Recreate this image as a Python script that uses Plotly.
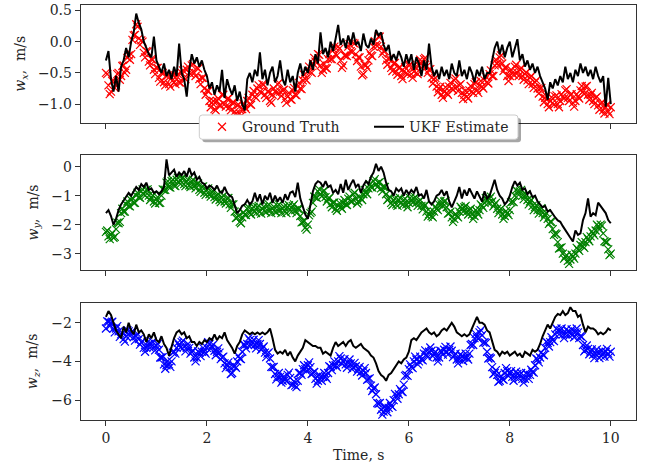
import plotly.graph_objects as go

# time axis (s): 0.05 s grid and the in-between samples of the ground truth
time_s = [round(0.05 * i, 2) for i in range(201)]
time_mid = [round(0.025 + 0.05 * i, 3) for i in range(200)]

wx_truth = [
    -0.50, -0.70, -0.80, -0.62, -0.70, -0.50, -0.55, -0.38, -0.45, -0.22, -0.20, 0.10, 0.28, 0.05, 0.02, -0.18, -0.15, -0.32, -0.28, -0.45,
    -0.42, -0.58, -0.50, -0.65, -0.55, -0.68, -0.58, -0.65, -0.55, -0.65, -0.50, -0.58, -0.45, -0.50, -0.38, -0.50, -0.42, -0.60, -0.58, -0.75,
    -0.78, -0.95, -0.98, -1.08, -0.95, -1.02, -0.85, -1.00, -0.92, -1.05, -0.98, -1.12, -1.02, -1.15, -1.08, -1.05, -0.95, -1.00, -0.85, -0.88,
    -0.75, -0.80, -0.68, -0.85, -0.80, -0.95, -0.85, -0.80, -0.68, -0.80, -0.78, -0.92, -0.88, -0.92, -0.78, -0.85, -0.72, -0.75, -0.62, -0.60,
    -0.48, -0.48, -0.35, -0.32, -0.20, -0.38, -0.45, -0.42, -0.28, -0.28, -0.12, -0.20, -0.08, -0.30, -0.38, -0.22, -0.08, -0.15, -0.02, -0.20,
    -0.25, -0.40, -0.52, -0.38, -0.30, -0.22, -0.08, -0.05, 0.08, -0.08, -0.15, -0.30, -0.28, -0.42, -0.35, -0.48, -0.42, -0.55, -0.48, -0.50,
    -0.38, -0.52, -0.48, -0.50, -0.38, -0.35, -0.28, -0.40, -0.45, -0.58, -0.60, -0.72, -0.75, -0.85, -0.80, -0.82, -0.72, -0.75, -0.62, -0.72,
    -0.70, -0.82, -0.85, -0.88, -0.78, -0.80, -0.68, -0.78, -0.70, -0.72, -0.62, -0.65, -0.52, -0.55, -0.38, -0.35, -0.25, -0.35, -0.42, -0.55,
    -0.55, -0.50, -0.40, -0.50, -0.45, -0.55, -0.52, -0.62, -0.58, -0.68, -0.65, -0.75, -0.75, -0.88, -0.90, -1.00, -0.95, -0.98, -0.88, -1.00,
    -0.95, -0.88, -0.78, -0.90, -0.85, -0.98, -0.95, -0.88, -0.78, -0.80, -0.72, -0.85, -0.85, -0.95, -0.90, -1.02, -1.00, -1.10, -1.05, -1.12,
    -1.05,
]
wx_truth_mid = [
    -0.52, -0.84, -0.63, -0.74, -0.52, -0.61, -0.39, -0.50, -0.26, -0.29, 0.03, 0.11, 0.24, -0.05, 0.00, -0.25, -0.16, -0.38, -0.29, -0.52,
    -0.42, -0.64, -0.50, -0.70, -0.54, -0.72, -0.53, -0.68, -0.52, -0.66, -0.46, -0.60, -0.40, -0.52, -0.36, -0.55, -0.43, -0.68, -0.58, -0.85,
    -0.79, -1.05, -0.95, -1.10, -0.91, -1.02, -0.85, -1.04, -0.91, -1.10, -0.97, -1.15, -1.01, -1.19, -0.99, -1.08, -0.90, -1.01, -0.79, -0.90,
    -0.70, -0.82, -0.69, -0.90, -0.80, -0.98, -0.75, -0.82, -0.66, -0.87, -0.77, -0.98, -0.82, -0.93, -0.74, -0.86, -0.66, -0.76, -0.53, -0.62,
    -0.40, -0.50, -0.26, -0.34, -0.21, -0.50, -0.36, -0.43, -0.20, -0.28, -0.08, -0.22, -0.11, -0.42, -0.22, -0.23, -0.04, -0.17, -0.03, -0.31,
    -0.25, -0.54, -0.37, -0.42, -0.18, -0.23, 0.01, -0.07, 0.08, -0.19, -0.15, -0.37, -0.27, -0.47, -0.34, -0.53, -0.41, -0.60, -0.41, -0.52,
    -0.37, -0.58, -0.41, -0.52, -0.29, -0.39, -0.26, -0.50, -0.44, -0.67, -0.58, -0.81, -0.72, -0.90, -0.73, -0.85, -0.66, -0.77, -0.59, -0.79,
    -0.68, -0.92, -0.79, -0.91, -0.71, -0.82, -0.65, -0.82, -0.63, -0.75, -0.56, -0.67, -0.46, -0.55, -0.29, -0.38, -0.22, -0.47, -0.41, -0.63,
    -0.45, -0.53, -0.37, -0.55, -0.42, -0.61, -0.49, -0.68, -0.55, -0.74, -0.62, -0.83, -0.74, -0.97, -0.87, -1.05, -0.89, -1.01, -0.86, -1.05,
    -0.84, -0.91, -0.76, -0.95, -0.84, -1.04, -0.84, -0.91, -0.71, -0.84, -0.71, -0.93, -0.82, -1.00, -0.88, -1.09, -0.97, -1.15, -1.01, -1.16,
]

wx_ukf = [
    -0.30, -0.15, -0.60, -0.80, -0.55, -0.80, -0.40, -0.30, -0.10, -0.25, 0.00, 0.15, 0.45, 0.30, 0.20, 0.00, -0.10, -0.20, -0.25, 0.08,
    -0.30, -0.40, -0.50, -0.35, -0.55, -0.45, -0.60, -0.40, -0.55, -0.03, -0.50, -0.60, -0.88, -0.45, -0.20, -0.35, -0.25, -0.40, -0.30, -0.45,
    -0.55, -0.75, -0.65, -0.85, -0.70, -0.80, -0.45, -0.90, -0.60, -0.75, -0.85, -0.70, -0.95, -0.80, -1.00, -1.10, -0.60, -0.50, -0.65, -0.45,
    -0.55, -0.17, -0.60, -0.45, -0.70, -0.50, -0.40, -0.65, -0.55, -0.30, -0.60, -0.70, -0.45, -0.65, -0.55, -0.80, -0.50, -0.35, -0.55, -0.40,
    -0.50, -0.30, -0.45, -0.20, -0.35, 0.15, -0.20, -0.10, -0.25, 0.00, -0.15, 0.05, 0.27, -0.05, 0.05, -0.10, 0.10, -0.05, 0.15, -0.05,
    0.00, -0.15, 0.13, -0.05, -0.10, 0.05, -0.05, 0.19, 0.10, 0.15, -0.05, -0.15, -0.05, -0.30, -0.20, -0.30, -0.15, -0.25, -0.40, -0.20,
    -0.35, -0.20, -0.45, -0.25, -0.35, -0.55, -0.30, -0.45, -0.03, -0.40, -0.55, -0.45, -0.60, -0.40, -0.55, -0.45, -0.60, -0.35, -0.50, -0.55,
    -0.30, -0.55, -0.45, -0.60, -0.40, -0.50, -0.65, -0.45, -0.55, -0.40, -0.60, -0.50, -0.50, -0.30, -0.10, 0.00, -0.20, -0.05, -0.25, -0.10,
    0.00, -0.25, -0.10, 0.04, -0.30, -0.20, -0.40, -0.30, -0.45, -0.35, -0.50, -0.40, -0.55, -0.65, -0.75, -0.93, -0.65, -0.75, -0.60, -0.70,
    -0.55, -0.65, -0.40, -0.60, -0.50, -0.65, -0.45, -0.55, -0.35, -0.50, -0.40, -0.55, -0.45, -0.60, -0.40, -0.55, -0.65, -0.55, -1.04, -0.58,
    -1.00,
]

wy_truth = [
    -2.25, -2.40, -2.35, -2.45, -2.15, -1.95, -1.60, -1.55, -1.30, -1.35, -1.15, -1.25, -1.00, -1.05, -0.85, -0.95, -0.80, -1.00, -1.05, -1.20,
    -1.10, -1.25, -1.00, -0.80, -0.55, -0.70, -0.50, -0.65, -0.45, -0.55, -0.40, -0.60, -0.50, -0.65, -0.50, -0.65, -0.60, -0.80, -0.70, -0.90,
    -0.80, -0.95, -0.88, -1.05, -0.98, -1.15, -1.05, -1.20, -1.10, -1.30, -1.30, -1.55, -1.75, -1.90, -1.75, -1.65, -1.45, -1.60, -1.45, -1.55,
    -1.40, -1.55, -1.45, -1.55, -1.35, -1.50, -1.45, -1.55, -1.35, -1.50, -1.45, -1.55, -1.40, -1.50, -1.35, -1.50, -1.45, -1.70, -1.90, -2.10,
    -2.00, -1.60, -1.25, -1.05, -0.85, -0.95, -0.85, -1.05, -1.10, -1.30, -1.25, -1.45, -1.35, -1.40, -1.25, -1.30, -1.10, -1.20, -0.95, -1.10,
    -1.20, -1.10, -0.95, -0.90, -0.75, -0.70, -0.50, -0.60, -0.55, -0.75, -0.70, -0.95, -1.10, -1.25, -1.15, -1.30, -1.15, -1.25, -1.15, -1.30,
    -1.25, -1.15, -1.10, -1.25, -1.20, -1.35, -1.35, -1.55, -1.65, -1.70, -1.55, -1.45, -1.30, -1.30, -1.20, -1.40, -1.60, -1.75, -1.80, -1.70,
    -1.55, -1.45, -1.40, -1.55, -1.50, -1.65, -1.70, -1.55, -1.50, -1.35, -1.25, -1.15, -1.10, -1.20, -1.30, -1.45, -1.50, -1.65, -1.70, -1.60,
    -1.50, -1.20, -1.00, -0.85, -0.85, -1.00, -1.00, -1.15, -1.20, -1.35, -1.40, -1.50, -1.50, -1.60, -1.65, -1.80, -1.90, -2.15, -2.30, -2.60,
    -2.80, -3.00, -3.10, -3.25, -3.20, -3.10, -3.00, -2.85, -2.70, -2.75, -2.60, -2.50, -2.40, -2.30, -2.20, -2.05, -2.00, -2.30, -2.60, -2.85,
    -3.00,
]
wy_truth_mid = [
    -2.20, -2.50, -2.28, -2.42, -1.93, -1.90, -1.45, -1.55, -1.20, -1.37, -1.08, -1.25, -0.90, -1.07, -0.78, -1.00, -0.78, -1.15, -1.00, -1.27,
    -1.05, -1.25, -0.78, -0.80, -0.50, -0.72, -0.45, -0.67, -0.38, -0.60, -0.38, -0.67, -0.45, -0.70, -0.45, -0.75, -0.58, -0.87, -0.68, -0.97,
    -0.75, -1.03, -0.85, -1.13, -0.95, -1.22, -1.00, -1.27, -1.08, -1.42, -1.30, -1.77, -1.70, -1.95, -1.58, -1.67, -1.40, -1.65, -1.38, -1.60,
    -1.35, -1.62, -1.38, -1.57, -1.30, -1.60, -1.38, -1.57, -1.30, -1.60, -1.38, -1.60, -1.33, -1.55, -1.30, -1.60, -1.45, -1.92, -1.88, -2.17,
    -1.68, -1.55, -1.03, -1.07, -0.78, -1.02, -0.83, -1.20, -1.08, -1.40, -1.23, -1.52, -1.25, -1.45, -1.15, -1.32, -1.03, -1.20, -0.90, -1.27,
    -1.03, -1.15, -0.80, -0.95, -0.60, -0.72, -0.43, -0.70, -0.53, -0.85, -0.70, -1.15, -1.05, -1.32, -1.10, -1.35, -1.08, -1.32, -1.10, -1.40,
    -1.08, -1.25, -1.05, -1.35, -1.15, -1.47, -1.33, -1.72, -1.55, -1.75, -1.38, -1.50, -1.18, -1.37, -1.18, -1.62, -1.55, -1.90, -1.63, -1.75,
    -1.38, -1.55, -1.35, -1.65, -1.45, -1.80, -1.50, -1.65, -1.30, -1.42, -1.08, -1.25, -1.03, -1.37, -1.25, -1.60, -1.45, -1.80, -1.53, -1.67,
    -1.23, -1.22, -0.80, -0.97, -0.80, -1.12, -0.95, -1.30, -1.15, -1.50, -1.33, -1.62, -1.43, -1.75, -1.60, -1.97, -1.90, -2.35, -2.33, -2.82,
    -2.78, -3.17, -3.05, -3.35, -3.03, -3.17, -2.80, -2.90, -2.60, -2.80, -2.43, -2.57, -2.23, -2.37, -2.00, -2.15, -2.03, -2.57, -2.60, -3.05,
]

wy_ukf = [
    -1.60, -1.50, -1.70, -2.00, -1.80, -1.50, -1.30, -1.15, -1.00, -0.90, -1.00, -0.85, -0.70, -0.80, -0.60, -0.70, -0.55, -0.80, -0.75, -0.90,
    -0.85, -0.95, -0.85, -0.70, 0.25, -0.30, -0.20, -0.10, -0.35, -0.20, -0.30, -0.15, -0.35, -0.05, -0.30, -0.20, -0.45, -0.35, -0.55, -0.60,
    -0.75, -0.65, -0.70, -0.80, -0.65, -0.85, -0.90, -0.70, -0.90, -1.00, -1.05, -1.30, -1.60, -1.50, -1.35, -1.30, -1.15, -1.30, -1.20, -0.90,
    -1.20, -0.95, -1.30, -1.00, -1.15, -0.90, -1.25, -1.00, -1.20, -1.05, -1.25, -0.95, -1.15, -0.90, -0.85, -1.05, -0.55, -1.10, -1.35, -1.65,
    -1.80, -1.30, -0.85, -0.60, -0.50, -0.55, -0.70, -0.50, -0.70, -0.65, -0.90, -0.80, -0.95, -0.60, -0.90, -0.45, -0.80, -0.60, -0.45, -0.70,
    -0.60, -0.90, -0.65, -0.50, -0.60, -0.35, -0.20, 0.10, -0.15, 0.00, -0.20, -0.55, -0.80, -0.85, -1.00, -0.75, -0.85, -0.75, -1.00, -0.80,
    -0.95, -0.80, -0.90, -0.70, -1.00, -0.95, -1.10, -0.80, -1.20, -1.30, -1.20, -1.00, -0.95, -0.80, -1.00, -0.85, -1.20, -1.40, -1.20, -1.00,
    -0.70, -1.10, -0.80, -1.00, -0.75, -0.90, -1.10, -0.85, -1.05, -1.20, -0.85, -1.10, -1.00, -0.75, -0.45, -0.80, -1.00, -1.10, -1.30, -1.20,
    -1.00, -0.70, -0.50, -0.65, -0.55, -0.80, -0.75, -0.95, -0.85, -1.05, -1.00, -1.20, -1.30, -1.40, -1.35, -1.55, -1.50, -1.65, -1.75, -1.85,
    -1.90, -2.05, -2.20, -2.35, -2.45, -2.58, -2.20, -2.35, -2.30, -1.84, -1.60, -1.09, -1.72, -1.60, -1.67, -1.24, -1.35, -1.49, -1.60, -1.84,
    -1.95,
]

wz_truth = [
    -2.30, -1.95, -2.00, -2.30, -2.30, -2.45, -2.60, -2.85, -2.70, -2.45, -2.50, -2.75, -2.70, -2.85, -3.00, -3.30, -3.30, -3.10, -3.10, -3.25,
    -3.20, -3.40, -3.80, -4.15, -4.20, -4.15, -4.00, -3.50, -3.30, -3.15, -3.00, -3.25, -3.30, -3.30, -3.50, -3.80, -3.80, -3.55, -3.50, -3.50,
    -3.30, -3.10, -3.20, -3.45, -3.50, -3.55, -3.80, -4.10, -4.20, -4.30, -4.60, -4.25, -4.00, -3.85, -3.50, -3.15, -3.10, -2.90, -3.00, -3.15,
    -3.10, -3.10, -3.30, -3.55, -3.60, -3.85, -4.30, -4.65, -4.80, -4.80, -5.00, -4.95, -4.70, -4.85, -5.20, -5.25, -5.00, -4.60, -4.40, -4.40,
    -4.20, -4.30, -4.60, -4.90, -5.00, -4.80, -4.80, -4.80, -4.60, -4.30, -4.20, -4.20, -4.00, -3.85, -4.00, -4.15, -4.10, -4.10, -4.30, -4.25,
    -4.40, -4.55, -4.50, -4.60, -4.90, -5.25, -5.40, -5.70, -6.20, -6.50, -6.60, -6.45, -6.40, -6.30, -6.00, -5.75, -5.70, -5.55, -5.20, -4.70,
    -4.40, -4.30, -4.00, -3.90, -4.00, -3.90, -3.60, -3.65, -3.50, -3.45, -3.60, -3.80, -3.80, -3.50, -3.40, -3.50, -3.40, -3.45, -3.70, -3.90,
    -3.90, -3.75, -3.80, -3.80, -3.60, -3.10, -2.80, -2.75, -2.50, -2.65, -3.00, -3.50, -3.80, -4.30, -4.60, -4.70, -5.00, -4.90, -4.60, -4.50,
    -4.60, -4.80, -4.80, -4.65, -4.70, -4.90, -4.90, -4.70, -4.70, -4.55, -4.20, -3.90, -3.80, -3.65, -3.30, -3.05, -3.00, -2.90, -2.60, -2.40,
    -2.40, -2.60, -2.60, -2.45, -2.50, -2.60, -2.50, -2.50, -2.70, -3.15, -3.40, -3.35, -3.50, -3.65, -3.60, -3.55, -3.70, -3.60, -3.50, -3.60,
    -3.50,
]
wz_truth_mid = [
    -1.93, -2.18, -1.95, -2.50, -2.18, -2.73, -2.53, -2.98, -2.38, -2.68, -2.43, -2.93, -2.58, -3.13, -2.95, -3.50, -3.00, -3.30, -2.98, -3.43,
    -3.10, -3.80, -3.78, -4.38, -3.98, -4.28, -3.55, -3.60, -3.03, -3.28, -2.93, -3.48, -3.10, -3.60, -3.45, -4.00, -3.48, -3.73, -3.30, -3.60,
    -3.00, -3.35, -3.13, -3.68, -3.33, -3.88, -3.75, -4.35, -4.05, -4.65, -4.23, -4.33, -3.73, -3.88, -3.13, -3.33, -2.80, -3.15, -2.88, -3.33,
    -2.90, -3.40, -3.23, -3.78, -3.53, -4.28, -4.28, -4.93, -4.60, -5.10, -4.78, -5.03, -4.58, -5.23, -5.03, -5.33, -4.60, -4.70, -4.20, -4.50,
    -4.05, -4.65, -4.55, -5.15, -4.70, -5.00, -4.60, -4.90, -4.25, -4.45, -4.00, -4.30, -3.73, -4.13, -3.88, -4.33, -3.90, -4.40, -4.08, -4.53,
    -4.28, -4.73, -4.35, -4.95, -4.88, -5.53, -5.35, -6.15, -6.15, -6.75, -6.33, -6.63, -6.15, -6.35, -5.68, -5.93, -5.43, -5.58, -4.75, -4.75,
    -4.15, -4.35, -3.75, -4.15, -3.75, -3.95, -3.43, -3.78, -3.28, -3.73, -3.50, -4.00, -3.45, -3.65, -3.25, -3.65, -3.23, -3.78, -3.60, -4.10,
    -3.63, -3.98, -3.60, -3.90, -3.15, -3.15, -2.58, -2.83, -2.38, -3.03, -3.05, -3.85, -3.85, -4.65, -4.45, -5.05, -4.75, -4.95, -4.35, -4.75,
    -4.50, -5.00, -4.53, -4.88, -4.60, -5.10, -4.60, -4.90, -4.43, -4.58, -3.85, -4.05, -3.53, -3.68, -2.98, -3.23, -2.75, -2.95, -2.30, -2.60,
    -2.30, -2.80, -2.33, -2.68, -2.35, -2.75, -2.30, -2.80, -2.73, -3.48, -3.18, -3.63, -3.38, -3.83, -3.38, -3.83, -3.45, -3.75, -3.35, -3.75,
]

wz_ukf = [
    -1.70, -1.40, -1.60, -2.00, -2.40, -2.60, -2.80, -2.20, -2.50, -2.00, -2.40, -2.60, -2.10, -2.50, -2.40, -2.60, -3.00, -2.60, -2.80, -2.50,
    -2.90, -3.00, -2.70, -3.10, -3.30, -3.70, -3.20, -2.80, -2.50, -2.40, -2.60, -2.50, -2.80, -2.70, -3.00, -3.00, -3.20, -3.00, -3.10, -2.90,
    -3.00, -2.80, -2.90, -2.60, -2.90, -2.70, -2.80, -2.50, -2.90, -3.10, -3.30, -3.60, -3.20, -3.00, -2.60, -2.40, -2.50, -2.60, -2.50, -2.60,
    -2.50, -2.60, -2.50, -2.60, -2.50, -2.30, -2.80, -3.40, -3.60, -3.50, -3.60, -3.40, -3.70, -3.50, -3.80, -4.00, -3.70, -3.50, -3.30, -2.90,
    -3.00, -3.10, -3.20, -3.20, -3.30, -3.30, -3.60, -3.50, -3.60, -3.70, -3.30, -3.00, -3.20, -3.10, -3.00, -3.20, -3.00, -2.90, -3.20, -3.30,
    -3.20, -3.10, -3.30, -3.40, -3.50, -3.70, -3.80, -4.10, -4.50, -4.70, -4.80, -5.00, -4.70, -4.60, -4.40, -4.20, -4.00, -4.10, -3.90, -3.80,
    -3.50, -2.90, -2.80, -2.90, -2.70, -2.50, -2.40, -2.30, -2.50, -2.60, -2.50, -2.70, -2.60, -2.40, -2.30, -2.40, -2.20, -2.00, -2.20, -2.50,
    -2.60, -2.70, -2.60, -2.70, -2.60, -2.30, -2.00, -1.70, -2.00, -2.00, -2.10, -2.40, -2.50, -3.00, -3.40, -3.50, -3.70, -3.50, -3.60, -3.50,
    -3.70, -3.60, -3.50, -3.70, -3.60, -3.80, -3.50, -3.60, -3.70, -3.40, -3.50, -3.40, -3.10, -2.70, -2.40, -2.10, -2.30, -2.00, -1.70, -1.55,
    -1.60, -1.40, -1.60, -1.50, -1.20, -1.40, -1.40, -1.70, -1.60, -2.10, -2.50, -2.20, -2.30, -2.30, -2.40, -2.60, -2.50, -2.60, -2.50, -2.30,
    -2.40,
]

x_ticks = [0, 2, 4, 6, 8, 10]
y_ticks = [[0.5, 0.0, -0.5, -1.0], [0, -1, -2, -3], [-2, -4, -6]]
y_ranges = [[-1.298, 0.588], [-3.562, 0.403], [-7.03, -0.965]]
y_labels = ["<i>w</i><sub><i>x</i></sub>,  m/s", "<i>w</i><sub><i>y</i></sub>,  m/s", "<i>w</i><sub><i>z</i></sub>,  m/s"]
truth_colors = ["#ff0000", "#008000", "#0000ff"]

W, H = 649, 465
FONT = "DejaVu Serif"
TXT = "#262626"
x_dom = [80.7 / W, 636 / W]
y_px = [(5, 122.7), (155, 270), (302.7, 420)]
y_doms = [[1 - b / H, 1 - t / H] for t, b in y_px]
ylab_x = [21, 33, 33]

fig = go.Figure()
series = [(wx_truth, wx_truth_mid, wx_ukf), (wy_truth, wy_truth_mid, wy_ukf), (wz_truth, wz_truth_mid, wz_ukf)]
for i, (truth, truth_mid, ukf) in enumerate(series):
    sfx = "" if i == 0 else str(i + 1)
    fig.add_trace(go.Scatter(
        x=time_s + time_mid, y=truth + truth_mid, mode="markers", name="Ground Truth",
        marker=dict(symbol="x-thin", size=8, color=truth_colors[i],
                    line=dict(width=1.2, color=truth_colors[i])),
        showlegend=(i == 0), xaxis="x" + sfx, yaxis="y" + sfx))
    fig.add_trace(go.Scatter(
        x=time_s, y=ukf, mode="lines", name="UKF Estimate",
        line=dict(color="black", width=2),
        showlegend=(i == 0), xaxis="x" + sfx, yaxis="y" + sfx))

axis_common = dict(showline=True, mirror=True, linecolor="#333", linewidth=1,
                   ticks="outside", ticklen=5, tickwidth=1, tickcolor="#333",
                   showgrid=False, zeroline=False, automargin=False,
                   tickfont=dict(family=FONT, size=14, color=TXT))
layout = dict(
    template="none",
    width=W, height=H, margin=dict(l=0, r=0, t=0, b=0, pad=0, autoexpand=False),
    paper_bgcolor="white", plot_bgcolor="white",
    font=dict(family=FONT, size=14, color=TXT),
    showlegend=True,
)
for i in range(3):
    sfx = "" if i == 0 else str(i + 1)
    layout["xaxis" + sfx] = dict(axis_common, domain=x_dom, range=[-0.5, 10.5],
                                 tickvals=x_ticks, anchor="y" + sfx,
                                 showticklabels=(i == 2))
    layout["yaxis" + sfx] = dict(axis_common, domain=y_doms[i], range=y_ranges[i],
                                 tickvals=y_ticks[i], anchor="x" + sfx,
                                 tickformat=".1f" if i == 0 else "d")
fig.update_layout(**layout)

annotations = []
for i in range(3):
    t, b = y_px[i]
    annotations.append(dict(text=y_labels[i], xref="paper", yref="paper",
                            x=ylab_x[i] / W, y=1 - (t + b) / 2 / H,
                            xanchor="center", yanchor="middle", textangle=-90,
                            showarrow=False, font=dict(family=FONT, size=14, color=TXT)))
annotations.append(dict(text="Time, s", xref="paper", yref="paper",
                        x=(x_dom[0] + x_dom[1]) / 2, y=1 - 455 / H,
                        xanchor="center", yanchor="middle", showarrow=False,
                        font=dict(family=FONT, size=14, color=TXT)))
fig.update_layout(annotations=annotations)


def rounded_rect(l, t, r, b, rad):
    X = lambda px: px / W
    Y = lambda py: 1 - py / H
    return (f"M {X(l + rad)},{Y(t)} L {X(r - rad)},{Y(t)} Q {X(r)},{Y(t)} {X(r)},{Y(t + rad)} "
            f"L {X(r)},{Y(b - rad)} Q {X(r)},{Y(b)} {X(r - rad)},{Y(b)} "
            f"L {X(l + rad)},{Y(b)} Q {X(l)},{Y(b)} {X(l)},{Y(b - rad)} "
            f"L {X(l)},{Y(t + rad)} Q {X(l)},{Y(t)} {X(l + rad)},{Y(t)} Z")


# legend frame (matplotlib-like rounded box with shadow) drawn as shapes
leg_l, leg_r, leg_t, leg_b = 199.3, 518, 115, 139.3
fig.add_shape(type="path", xref="paper", yref="paper", layer="above",
              path=rounded_rect(leg_l + 3, leg_t + 3, leg_r + 3, leg_b + 3, 3),
              fillcolor="rgba(0,0,0,0.35)", line=dict(width=0))
fig.add_shape(type="path", xref="paper", yref="paper", layer="above",
              path=rounded_rect(leg_l, leg_t, leg_r, leg_b, 3),
              fillcolor="white", line=dict(width=1, color="#cccccc"))
fig.update_layout(legend=dict(
    orientation="h", x=202 / W, y=1 - (leg_t + leg_b) / 2 / H,
    xanchor="left", yanchor="middle", bgcolor="rgba(0,0,0,0)",
    borderwidth=0, entrywidth=122,
    font=dict(family=FONT, size=14, color=TXT)))

fig.write_html("out.html", config={"displayModeBar": False},
               post_script="document.body.style.margin='0';document.body.style.overflow='hidden';")
